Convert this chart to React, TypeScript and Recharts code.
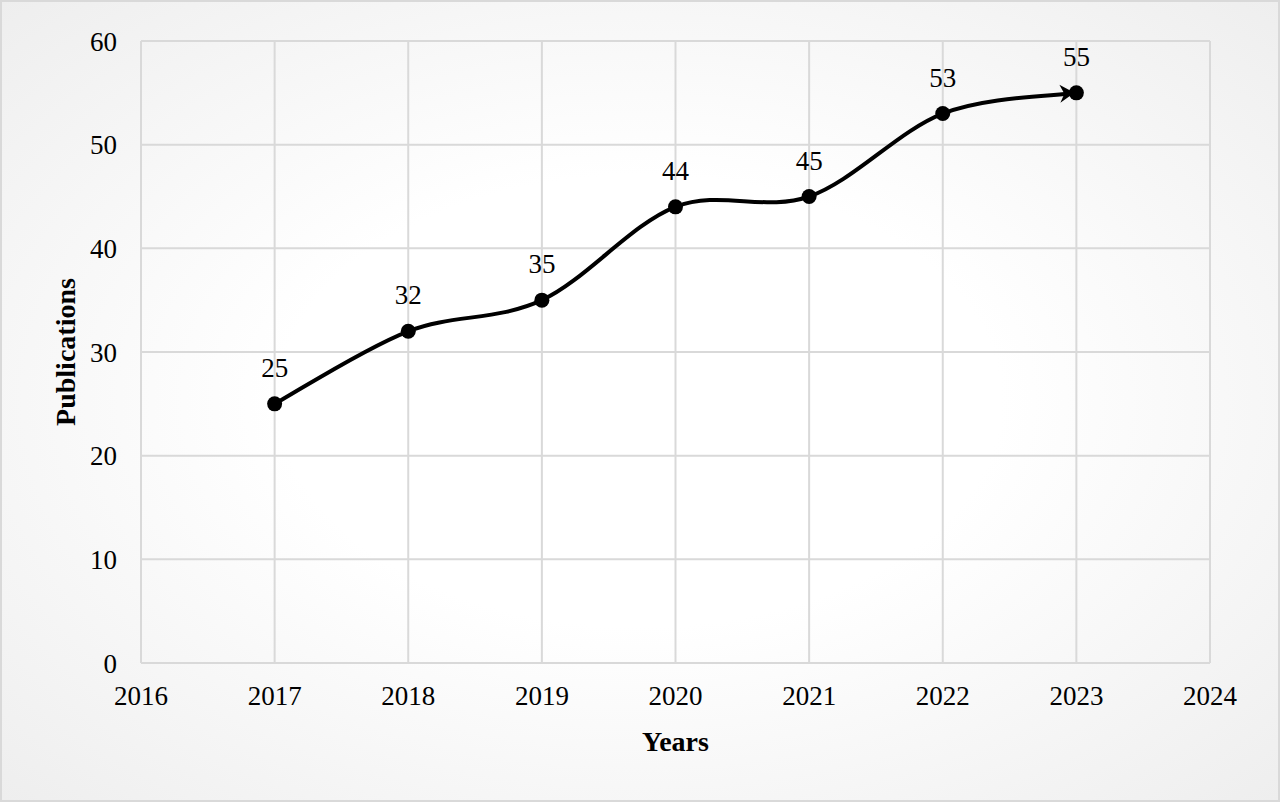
import { LineChart, Line, XAxis, YAxis, CartesianGrid, LabelList } from "recharts";

const years = [2017, 2018, 2019, 2020, 2021, 2022, 2023];
const publications = [25, 32, 35, 44, 45, 53, 55];
const xTicks = [2016, 2017, 2018, 2019, 2020, 2021, 2022, 2023, 2024];
const yTicks = [0, 10, 20, 30, 40, 50, 60];

const data = years.map((year, i) => ({ year, value: publications[i] }));

const FONT = "'Liberation Serif', 'Times New Roman', serif";

// Excel-like smoothing: Catmull-Rom style curve
function smoothCurve(context: any) {
  let pts: [number, number][] = [];
  return {
    areaStart() {},
    areaEnd() {},
    lineStart() {
      pts = [];
    },
    point(x: number, y: number) {
      pts.push([+x, +y]);
    },
    lineEnd() {
      if (!pts.length) return;
      context.moveTo(pts[0][0], pts[0][1]);
      for (let i = 0; i < pts.length - 1; i++) {
        const p0 = pts[i - 1] || pts[i];
        const p1 = pts[i];
        const p2 = pts[i + 1];
        const p3 = pts[i + 2] || p2;
        const c1x = p1[0] + (p2[0] - p0[0]) / 6;
        const c1y = p1[1] + (p2[1] - p0[1]) / 6;
        const c2x = p2[0] - (p3[0] - p1[0]) / 6;
        const c2y = p2[1] - (p3[1] - p1[1]) / 6;
        context.bezierCurveTo(c1x, c1y, c2x, c2y, p2[0], p2[1]);
      }
    },
  };
}

function Dot(props: any) {
  const { cx, cy, index } = props;
  if (cx == null || cy == null) return null;
  const last = index === data.length - 1;
  return (
    <g key={`dot-${index}`}>
      <circle cx={cx} cy={cy} r={7.5} fill="#000" />
      {last && (
        <path
          d={`M ${cx - 2} ${cy} L ${cx - 17} ${cy - 8} L ${cx - 12} ${cy + 1} L ${cx - 16} ${cy + 10} Z`}
          fill="#000"
        />
      )}
    </g>
  );
}

export default function App() {
  return (
    <div
      style={{
        position: "absolute",
        left: 0,
        top: 0,
        width: 1280,
        height: 802,
        boxSizing: "border-box",
        border: "2px solid #d9d9d9",
        background: "radial-gradient(ellipse at center, #ffffff 40%, #eeeeee 100%)",
        fontFamily: FONT,
      }}
    >
      <LineChart
        width={1276}
        height={798}
        data={data}
        margin={{ top: 39, right: 68, bottom: 0, left: 0 }}
      >
        <CartesianGrid stroke="#d9d9d9" strokeWidth={2} />
        <XAxis
          dataKey="year"
          type="number"
          domain={[2016, 2024]}
          ticks={xTicks}
          interval={0}
          tickLine={false}
          axisLine={{ stroke: "#d9d9d9", strokeWidth: 2 }}
          tick={{ fill: "#000", fontSize: 27, fontFamily: FONT }}
          tickMargin={17}
          height={137}
          label={{
            value: "Years",
            position: "insideTop",
            offset: 68,
            fill: "#000",
            fontSize: 28,
            fontWeight: "bold",
            fontFamily: FONT,
          }}
        />
        <YAxis
          type="number"
          domain={[0, 60]}
          ticks={yTicks}
          interval={0}
          width={139}
          tickLine={false}
          axisLine={{ stroke: "#d9d9d9", strokeWidth: 2 }}
          tick={{ fill: "#000", fontSize: 27, fontFamily: FONT }}
          tickMargin={18}
          label={{
            value: "Publications",
            angle: -90,
            position: "insideLeft",
            offset: 63,
            style: { textAnchor: "middle" },
            fill: "#000",
            fontSize: 28,
            fontWeight: "bold",
            fontFamily: FONT,
          }}
        />
        <Line
          dataKey="value"
          type={smoothCurve as any}
          stroke="#000"
          strokeWidth={4}
          dot={<Dot />}
          activeDot={false}
          isAnimationActive={false}
        >
          <LabelList
            dataKey="value"
            position="top"
            offset={27}
            fill="#000"
            fontSize={27}
            fontFamily={FONT}
          />
        </Line>
      </LineChart>
    </div>
  );
}
